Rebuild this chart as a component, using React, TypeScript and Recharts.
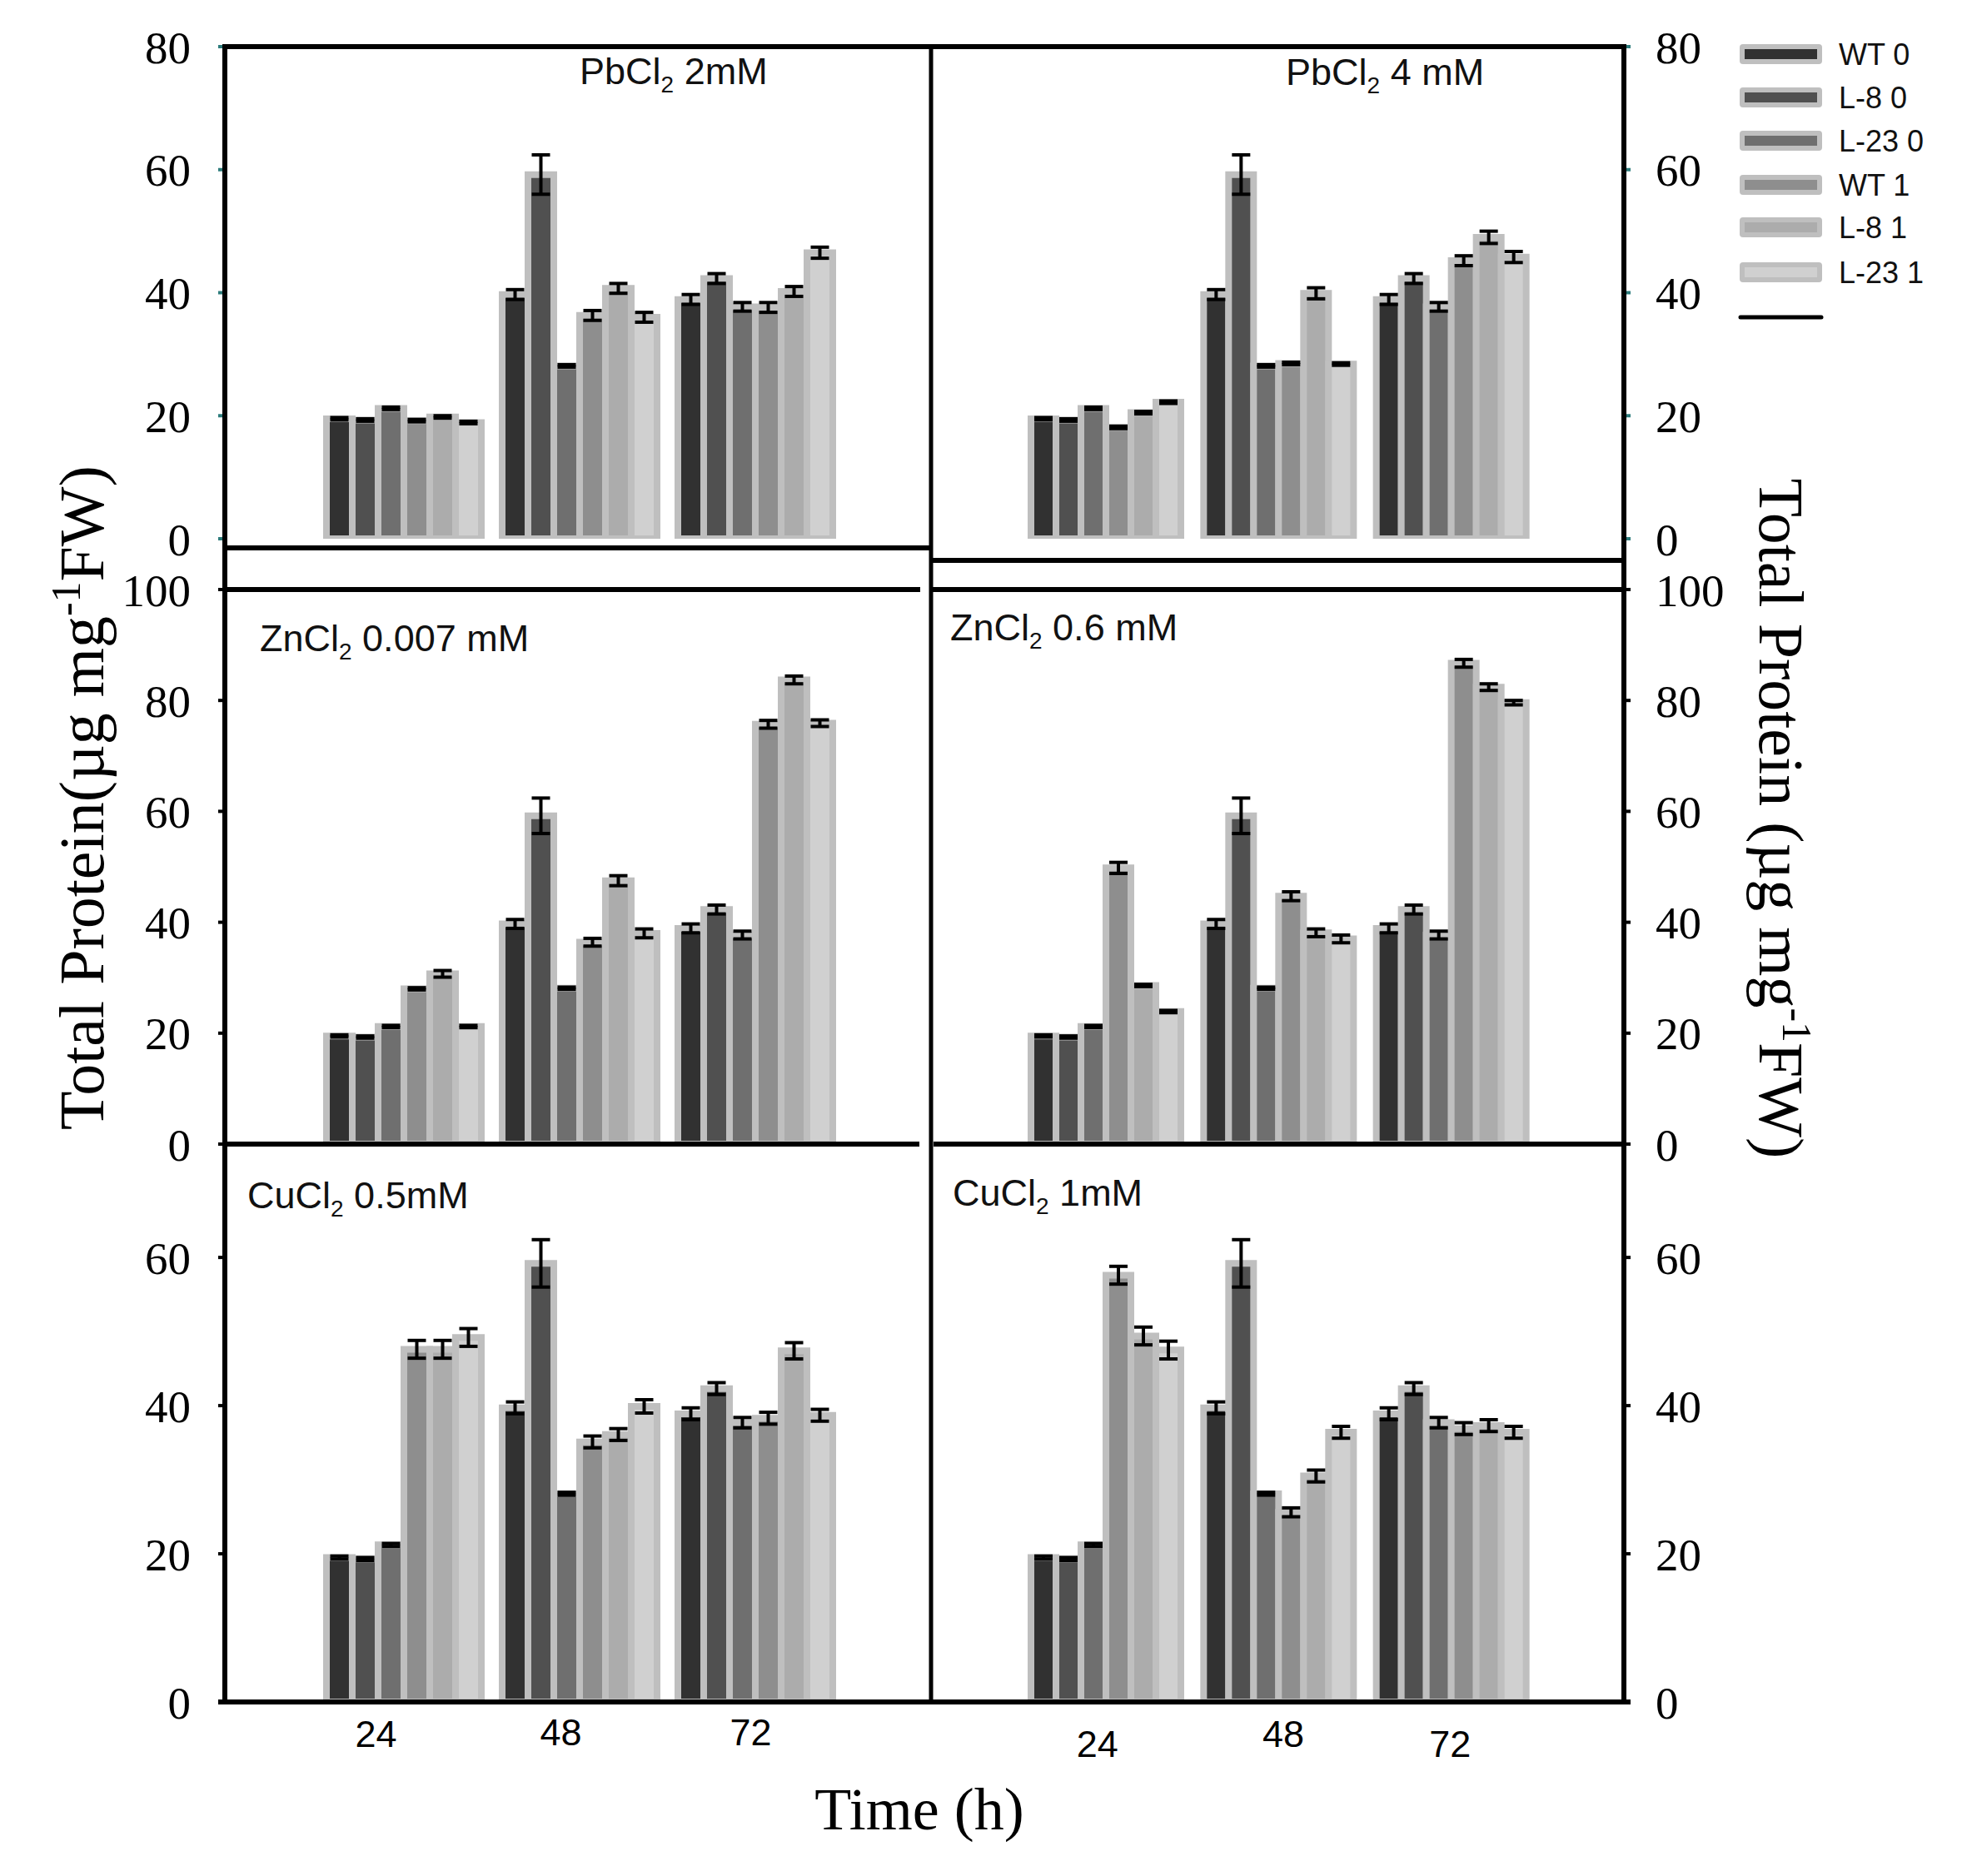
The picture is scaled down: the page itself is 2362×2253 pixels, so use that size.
import React from "react";
import { BarChart, Bar, XAxis, YAxis, ErrorBar } from "recharts";

const SERIF = "'Liberation Serif', 'Times New Roman', serif";
const SANS = "'Liberation Sans', Arial, sans-serif";

const TIMES = ["24", "48", "72"];

// untreated (0) lines, the same in every panel
const WT0 = [19.5, 39.7, 38.9];
const WT0_SE = [0.2, 0.8, 0.8];
const L8_0 = [19.3, 59.2, 42.3];
const L8_0_SE = [0.2, 3.2, 0.8];
const L23_0 = [21.2, 28.1, 37.7];
const L23_0_SE = [0.2, 0.2, 0.7];

// treated (1) lines, rows: WT 1, L-8 1, L-23 1
const PB2_MEAN = [
  [19.2, 36.3, 37.6],
  [19.8, 40.7, 40.2],
  [18.9, 36.0, 46.5],
];
const PB2_SE = [
  [0.2, 0.8, 0.8],
  [0.2, 0.8, 0.8],
  [0.2, 0.8, 0.9],
];
const PB4_MEAN = [
  [18.1, 28.5, 45.2],
  [20.5, 39.9, 49.0],
  [22.2, 28.4, 45.8],
];
const PB4_SE = [
  [0.2, 0.2, 0.8],
  [0.2, 0.9, 1.0],
  [0.2, 0.2, 0.9],
];
const ZN007_MEAN = [
  [28.0, 36.4, 75.7],
  [30.7, 47.5, 83.7],
  [21.2, 38.0, 75.9],
];
const ZN007_SE = [
  [0.2, 0.7, 0.7],
  [0.6, 0.9, 0.7],
  [0.2, 0.8, 0.6],
];
const ZN06_MEAN = [
  [49.8, 44.7, 86.7],
  [28.6, 38.1, 82.4],
  [23.9, 37.0, 79.6],
];
const ZN06_SE = [
  [1.0, 0.8, 0.7],
  [0.2, 0.7, 0.6],
  [0.2, 0.7, 0.4],
];
const CU05_MEAN = [
  [47.6, 35.1, 38.3],
  [47.6, 36.1, 47.4],
  [49.2, 39.9, 38.7],
];
const CU05_SE = [
  [1.2, 0.8, 0.8],
  [1.2, 0.8, 1.1],
  [1.2, 0.9, 0.8],
];
const CU1_MEAN = [
  [57.6, 25.6, 36.9],
  [49.4, 30.5, 37.3],
  [47.5, 36.4, 36.4],
];
const CU1_SE = [
  [1.2, 0.6, 0.8],
  [1.2, 0.8, 0.8],
  [1.2, 0.8, 0.8],
];

const TOP_TICKS = [0, 20, 40, 60, 80];
const MID_TICKS = [0, 20, 40, 60, 80, 100];
const BOTTOM_TICKS = [0, 20, 40, 60];

const SERIES = [
  { key: "wt0", name: "WT 0", fill: "#313131" },
  { key: "l80", name: "L-8 0", fill: "#505050" },
  { key: "l230", name: "L-23 0", fill: "#6f6f6f" },
  { key: "wt1", name: "WT 1", fill: "#8e8e8e" },
  { key: "l81", name: "L-8 1", fill: "#acacac" },
  { key: "l231", name: "L-23 1", fill: "#d0d0d0" },
];

function buildRows(mean: number[][], se: number[][]) {
  const means = [WT0, L8_0, L23_0, ...mean];
  const errs = [WT0_SE, L8_0_SE, L23_0_SE, ...se];
  return TIMES.map((time, i) => {
    const row: Record<string, string | number> = { time };
    SERIES.forEach((s, j) => {
      row[s.key] = means[j][i];
      row[`${s.key}Se`] = errs[j][i];
    });
    return row;
  });
}

type Side = "left" | "right";

function TimeTick(props: any) {
  const { x, y, payload, index, nudges } = props;
  const [dx, dy] = nudges[index] ?? [0, 0];
  return (
    <text x={x + dx} y={y + 54 + dy} textAnchor="middle" fontFamily={SANS} fontSize={45} fill="#000">
      {payload.value}
    </text>
  );
}

interface PanelProps {
  rows: Record<string, string | number>[];
  side: Side;
  top: number;
  height: number;
  domain: [number, number];
  ticks: number[];
  tickColor: string;
  showTime?: boolean;
  nudges?: number[][];
}

function Panel({ rows, side, top, height, domain, ticks, tickColor, showTime, nudges }: PanelProps) {
  const isLeft = side === "left";
  const left = isLeft ? 140 : 1118;
  const width = isLeft ? 978 : 972;
  return (
    <div style={{ position: "absolute", left, top }}>
      <BarChart
        width={width}
        height={height}
        data={rows}
        margin={{ top: 40, right: 0, bottom: showTime ? 0 : 40, left: 0 }}
        barCategoryGap={14}
        barGap={0}
      >
        <XAxis
          dataKey="time"
          hide={!showTime}
          height={80}
          axisLine={false}
          tickLine={false}
          tickSize={0}
          tickMargin={0}
          interval={0}
          padding={isLeft ? { left: 108, right: 107 } : { left: 106, right: 104 }}
          tick={(p: any) => <TimeTick {...p} nudges={nudges ?? []} />}
        />
        <YAxis
          orientation={side}
          width={isLeft ? 130 : 140}
          domain={domain}
          ticks={ticks}
          interval={0}
          allowDataOverflow
          axisLine={false}
          tickSize={8}
          tickMargin={isLeft ? 33 : 30}
          tickLine={{ stroke: tickColor, strokeWidth: 4 }}
          tick={{ fill: "#000", fontSize: 55, fontFamily: SERIF }}
        />
        {SERIES.map((s) => (
          <Bar
            key={s.key}
            dataKey={s.key}
            name={s.name}
            fill={s.fill}
            stroke="#bfbfbf"
            strokeWidth={8}
            isAnimationActive={false}
          >
            <ErrorBar
              dataKey={`${s.key}Se`}
              direction="y"
              width={11}
              stroke="#000"
              strokeWidth={4}
              isAnimationActive={false}
            />
          </Bar>
        ))}
      </BarChart>
    </div>
  );
}

function Title({ x, y, metal, dose }: { x: number; y: number; metal: string; dose: string }) {
  return (
    <text x={x} y={y} fontFamily={SANS} fontSize={45} fill="#111" style={{ whiteSpace: "pre" }}>
      {metal}
      <tspan fontSize={28} dy={10}>2</tspan>
      <tspan dy={-10}>{` ${dose}`}</tspan>
    </text>
  );
}

const LEGEND_ROWS = [65, 117, 169, 222, 273, 327];

function Overlay() {
  const line = { stroke: "#000", strokeWidth: 6 };
  return (
    <svg
      width={2362}
      height={2253}
      style={{ position: "absolute", left: 0, top: 0, pointerEvents: "none" }}
    >
      {/* frame */}
      <line x1={267} y1={56} x2={1953} y2={56} {...line} />
      <line x1={270} y1={53} x2={270} y2={2047} {...line} />
      <line x1={1950} y1={53} x2={1950} y2={2047} {...line} />
      <line x1={1118} y1={53} x2={1118} y2={2044} stroke="#000" strokeWidth={5} />
      <line x1={270} y1={658} x2={1118} y2={658} {...line} />
      <line x1={1118} y1={673} x2={1950} y2={673} {...line} />
      <line x1={270} y1={708} x2={1105} y2={708} {...line} />
      <line x1={1118} y1={708} x2={1950} y2={708} {...line} />
      <line x1={270} y1={1374} x2={1104} y2={1374} {...line} />
      <line x1={1121} y1={1374} x2={1950} y2={1374} {...line} />
      <line x1={262} y1={2044} x2={1958} y2={2044} {...line} />

      {/* panel titles */}
      <Title x={696} y={101} metal="PbCl" dose="2mM" />
      <Title x={1544} y={102} metal="PbCl" dose="4 mM" />
      <Title x={312} y={782} metal="ZnCl" dose="0.007 mM" />
      <Title x={1141} y={769} metal="ZnCl" dose="0.6 mM" />
      <Title x={297} y={1451} metal="CuCl" dose="0.5mM" />
      <Title x={1144} y={1448} metal="CuCl" dose="1mM" />

      {/* axis titles */}
      <text
        transform="translate(124,958) rotate(-90)"
        textAnchor="middle"
        fontFamily={SERIF}
        fontSize={76}
        fill="#000"
      >
        Total Protein(µg mg
        <tspan fontSize={50} dy={-28}>-1</tspan>
        <tspan dy={28}>FW)</tspan>
      </text>
      <text
        transform="translate(2113,983) rotate(90)"
        textAnchor="middle"
        fontFamily={SERIF}
        fontSize={76}
        fill="#000"
      >
        Total Protein (µg mg
        <tspan fontSize={50} dy={-28}>-1</tspan>
        <tspan dy={28}>FW)</tspan>
      </text>
      <text x={1104} y={2197} textAnchor="middle" fontFamily={SERIF} fontSize={72} fill="#000">
        Time (h)
      </text>

      {/* legend */}
      {SERIES.map((s, i) => (
        <g key={s.key}>
          <rect x={2089} y={LEGEND_ROWS[i] - 12} width={99} height={24} rx={4} fill="#bfbfbf" />
          <rect x={2095} y={LEGEND_ROWS[i] - 6} width={87} height={12} fill={s.fill} />
          <text x={2208} y={LEGEND_ROWS[i] + 13} fontFamily={SANS} fontSize={36} fill="#111">
            {s.name}
          </text>
        </g>
      ))}
      <line x1={2090} y1={381} x2={2187} y2={381} stroke="#000" strokeWidth={5} strokeLinecap="round" />
    </svg>
  );
}

const TEAL = "#2d7c7c";

export default function App() {
  return (
    <div
      style={{
        position: "absolute",
        left: 0,
        top: 0,
        width: 2362,
        height: 2253,
        background: "#fff",
        overflow: "hidden",
      }}
    >
      <Panel rows={buildRows(PB2_MEAN, PB2_SE)} side="left" top={16} height={671} domain={[0, 80]} ticks={TOP_TICKS} tickColor={TEAL} />
      <Panel rows={buildRows(PB4_MEAN, PB4_SE)} side="right" top={16} height={671} domain={[0, 80]} ticks={TOP_TICKS} tickColor={TEAL} />
      <Panel rows={buildRows(ZN007_MEAN, ZN007_SE)} side="left" top={668} height={746} domain={[0, 100]} ticks={MID_TICKS} tickColor="#000" />
      <Panel rows={buildRows(ZN06_MEAN, ZN06_SE)} side="right" top={668} height={746} domain={[0, 100]} ticks={MID_TICKS} tickColor="#000" />
      <Panel
        rows={buildRows(CU05_MEAN, CU05_SE)}
        side="left"
        top={1334}
        height={790}
        domain={[0, 75.3]}
        ticks={BOTTOM_TICKS}
        tickColor="#000"
        showTime
        nudges={[[-32, 0], [-21, -2], [-4, -2]]}
      />
      <Panel
        rows={buildRows(CU1_MEAN, CU1_SE)}
        side="right"
        top={1334}
        height={790}
        domain={[0, 75.3]}
        ticks={BOTTOM_TICKS}
        tickColor="#000"
        showTime
        nudges={[[-10, 12], [6, 0], [-1, 12]]}
      />
      <Overlay />
    </div>
  );
}
